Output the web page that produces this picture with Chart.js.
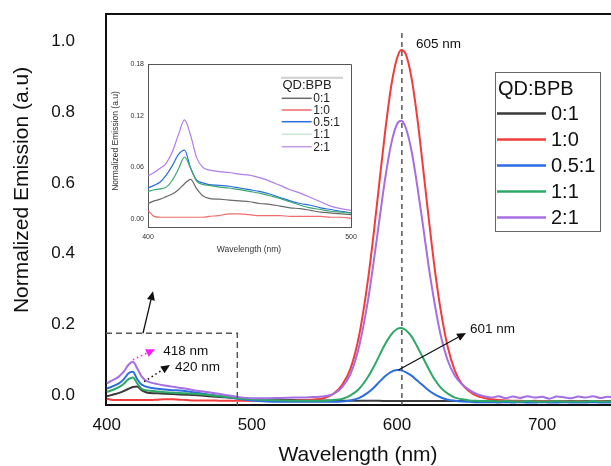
<!DOCTYPE html>
<html><head><meta charset="utf-8">
<script src="https://cdn.jsdelivr.net/npm/chart.js@4/dist/chart.umd.min.js"></script>
<style>
html,body{margin:0;padding:0;background:#fff;}
#wrap{position:relative;width:611px;height:466px;overflow:hidden;}
#main{position:absolute;left:0;top:0;}
#inset{position:absolute;left:100px;top:50px;}
</style></head><body>
<div id="wrap">
<canvas id="main" width="611" height="466"></canvas>
<canvas id="inset" width="265" height="212"></canvas>
</div>
<script>
// ---------- DATA ----------
const seriesNames = ['0:1', '1:0', '0.5:1', '1:1', '2:1'];
const xTicks = [400, 500, 600, 700];
const yTicks = [0, 0.2, 0.4, 0.6, 0.8, 1.0];

const wavelengths = [400,403,406,409,412,415,418,421,424,427,430,435,440,445,450,455,460,470,480,490,500,510,520,530,540,550,556,562,568,574,580,584,588,592,596,600,603,606,610,614,618,622,626,630,635,640,645,650,655,660,665,670,675,680,685,690,695,700,705,710,715,720,725,730,735,740,745,750];

const qd0_1 = [-0.003,0.000,0.003,0.007,0.012,0.018,0.023,0.024,0.014,0.008,0.006,
  0.005,0.004,0.003,0.002,0.001,0.000,
  -0.003,-0.006,-0.009,-0.012,-0.013,-0.014,-0.014,-0.015,-0.015,
  -0.016,-0.016,-0.016,-0.016,-0.016,
  -0.016,-0.016,-0.017,-0.017,-0.017,
  -0.017,-0.017,
  -0.017,-0.017,-0.017,-0.017,-0.017,-0.017,
  -0.017,-0.017,-0.017,-0.017,-0.017,-0.017,-0.017,-0.017,-0.017,-0.017,-0.017,-0.017,-0.017,-0.017,-0.017,-0.017,-0.017,-0.017,-0.017,-0.017,-0.017,-0.017,-0.017,-0.017];

const qd1_0 = [-0.010,-0.013,-0.014,-0.014,-0.014,-0.014,-0.014,-0.014,-0.014,-0.014,-0.014,
  -0.013,-0.012,-0.012,-0.013,-0.014,-0.015,
  -0.015,-0.016,-0.016,-0.016,-0.016,-0.016,-0.015,-0.013,-0.008,
  0.003,0.028,0.075,0.170,0.325,
  0.458,0.606,0.750,0.873,0.952,
  0.976,0.965,
  0.898,0.784,0.643,0.496,0.358,0.244,
  0.136,0.068,0.030,0.010,-0.002,-0.008,-0.012,-0.014,-0.015,-0.016,-0.016,-0.017,-0.016,-0.017,-0.017,-0.018,-0.017,-0.018,-0.017,-0.018,-0.018,-0.017,-0.018,-0.018];

const qd05_1 = [0.019,0.023,0.028,0.035,0.046,0.062,0.066,0.045,0.030,0.024,0.021,
  0.018,0.016,0.014,0.013,0.011,0.008,
  0.002,-0.004,-0.010,-0.015,-0.018,-0.019,-0.019,-0.019,-0.019,
  -0.019,-0.018,-0.015,-0.008,0.007,
  0.021,0.038,0.054,0.066,0.071,
  0.070,0.065,
  0.055,0.041,0.027,0.013,0.002,-0.006,
  -0.013,-0.016,-0.018,-0.019,-0.020,-0.020,-0.020,-0.021,-0.020,-0.021,-0.020,-0.021,-0.021,-0.020,-0.021,-0.021,-0.020,-0.021,-0.021,-0.021,-0.020,-0.021,-0.021,-0.021];

const qd1_1 = [0.009,0.013,0.018,0.024,0.033,0.045,0.050,0.033,0.018,0.014,0.012,
  0.010,0.008,0.007,0.006,0.005,0.004,
  0.000,-0.004,-0.009,-0.012,-0.014,-0.015,-0.016,-0.016,-0.016,
  -0.014,-0.011,-0.001,0.018,0.051,
  0.080,0.113,0.145,0.171,0.187,
  0.190,0.184,
  0.166,0.137,0.105,0.073,0.044,0.022,
  0.004,-0.007,-0.012,-0.015,-0.016,-0.017,-0.017,-0.018,-0.017,-0.018,-0.018,-0.017,-0.018,-0.018,-0.018,-0.017,-0.018,-0.018,-0.018,-0.018,-0.017,-0.018,-0.018,-0.018];

const qd2_1 = [0.033,0.040,0.046,0.055,0.068,0.086,0.094,0.076,0.053,0.041,0.036,
  0.031,0.027,0.024,0.021,0.018,0.014,
  0.008,0.002,-0.005,-0.009,-0.009,-0.008,-0.007,-0.006,-0.003,
  0.003,0.021,0.060,0.139,0.267,
  0.378,0.499,0.616,0.710,0.766,
  0.776,0.757,
  0.692,0.592,0.478,0.360,0.258,0.172,
  0.098,0.054,0.030,0.014,0.003,-0.003,-0.007,-0.003,-0.009,-0.004,-0.008,-0.003,-0.007,-0.005,-0.010,-0.004,-0.006,-0.009,-0.004,-0.007,-0.003,-0.008,-0.005,-0.006];

// inset data
const insetXTicks = [400, 500];
const insetYTicks = [0, 0.06, 0.12, 0.18];
const insetWavelengths = [400,403,406,409,412,415,418,421,424,427,430,435,440,445,450,455,460,465,470,475,480,485,490,495,500];
const inset0_1 = [0.018,0.021,0.023,0.026,0.029,0.034,0.041,0.046,0.035,0.027,0.024,0.023,0.022,0.021,0.020,0.018,0.017,0.015,0.013,0.012,0.010,0.008,0.007,0.006,0.005];
const inset1_0 = [0.010,0.003,0.002,0.002,0.002,0.002,0.002,0.002,0.002,0.002,0.003,0.004,0.006,0.006,0.005,0.004,0.004,0.004,0.003,0.003,0.003,0.003,0.002,0.002,0.001];
const inset05_1 = [0.036,0.039,0.043,0.051,0.062,0.075,0.080,0.059,0.045,0.042,0.040,0.039,0.038,0.036,0.034,0.032,0.029,0.025,0.021,0.018,0.016,0.013,0.011,0.009,0.007];
const inset1_1 = [0.032,0.034,0.035,0.037,0.045,0.058,0.072,0.059,0.044,0.040,0.039,0.037,0.036,0.034,0.032,0.030,0.027,0.024,0.020,0.016,0.013,0.011,0.009,0.008,0.007];
const inset2_1 = [0.050,0.054,0.059,0.065,0.078,0.098,0.115,0.097,0.071,0.060,0.057,0.055,0.054,0.052,0.051,0.048,0.044,0.039,0.034,0.030,0.025,0.020,0.015,0.012,0.010];

// annotation anchors (data units)
const peakLine = {x: 603.4, top: 1.024};
const peakLabel = {text: '605 nm', x: 613.1, y: 0.993};
const zoomBox = {right: 490, top: 0.175};
const boxArrow = {x1: 425, y1: 0.175, x2: 431.9, y2: 0.294};
const arrow418 = {x1: 418, y1: 0.100, x2: 433.3, y2: 0.130, text: '418 nm', tx: 439, ty: 0.123};
const arrow420 = {x1: 425.7, y1: 0.038, x2: 443.6, y2: 0.085, text: '420 nm', tx: 447.1, ty: 0.080};
const arrow601 = {x1: 601, y1: 0.071, x2: 647.6, y2: 0.176, text: '601 nm', tx: 650.3, ty: 0.187};

// ---------- STYLE ----------
const FONT = "'Liberation Sans', Arial, sans-serif";
const mainColors = ['#3a3a3a', '#f23b3b', '#2a6de0', '#2ea866', '#a66ee3'];
const insetColors = ['#6a6a6a', '#f26a6a', '#2a6de0', '#3aa872', '#b07de8'];
const insetLegendColors = ['#6a6a6a', '#f26a6a', '#2a6de0', '#c6e6d6', '#c39be8'];
const drawOrder = [4, 3, 2, 1, 0];

function toXY(xs, ys){ return xs.map((x,i)=>({x:x, y:ys[i]})); }

function arrow(ctx,x1,y1,x2,y2,color,dash,head,w){
  const ang=Math.atan2(y2-y1,x2-x1);
  const bx=x2-head*Math.cos(ang), by=y2-head*Math.sin(ang);
  ctx.strokeStyle=color; ctx.fillStyle=color; ctx.lineWidth=w; ctx.setLineDash(dash);
  ctx.beginPath(); ctx.moveTo(x1,y1); ctx.lineTo(bx,by); ctx.stroke(); ctx.setLineDash([]);
  const hw=head*0.45;
  ctx.beginPath(); ctx.moveTo(x2,y2);
  ctx.lineTo(bx+hw*Math.sin(ang), by-hw*Math.cos(ang));
  ctx.lineTo(bx-hw*Math.sin(ang), by+hw*Math.cos(ang));
  ctx.closePath(); ctx.fill();
}

const mainSeries = [qd0_1, qd1_0, qd05_1, qd1_1, qd2_1];

const mainDecor = {
  id: 'mainDecor',
  afterDatasetsDraw(chart){
    const {ctx, chartArea:a, scales:{x, y}} = chart;
    const X = v=>x.getPixelForValue(v), Y = v=>y.getPixelForValue(v);
    ctx.save();
    // top frame line
    ctx.strokeStyle='#111'; ctx.lineWidth=2;
    ctx.beginPath(); ctx.moveTo(a.left-1, a.top); ctx.lineTo(a.right, a.top); ctx.stroke();
    // dashed peak line
    ctx.strokeStyle='#555'; ctx.lineWidth=1.5; ctx.setLineDash([5,4]);
    ctx.beginPath(); ctx.moveTo(X(peakLine.x), Y(peakLine.top)); ctx.lineTo(X(peakLine.x), a.bottom); ctx.stroke();
    // zoom box
    ctx.setLineDash([6,4]);
    ctx.beginPath(); ctx.moveTo(a.left, Y(zoomBox.top)); ctx.lineTo(X(zoomBox.right), Y(zoomBox.top)); ctx.lineTo(X(zoomBox.right), a.bottom); ctx.stroke();
    ctx.setLineDash([]);
    // arrows
    arrow(ctx, X(boxArrow.x1), Y(boxArrow.y1), X(boxArrow.x2), Y(boxArrow.y2), '#111', [], 9, 1.3);
    arrow(ctx, X(arrow418.x1), Y(arrow418.y1), X(arrow418.x2), Y(arrow418.y2), '#ff1aff', [1.5,3], 9, 1.6);
    arrow(ctx, X(arrow420.x1), Y(arrow420.y1), X(arrow420.x2), Y(arrow420.y2), '#111', [1.5,3], 9, 1.6);
    arrow(ctx, X(arrow601.x1), Y(arrow601.y1), X(arrow601.x2), Y(arrow601.y2), '#111', [], 9, 1.3);
    // annotation texts
    ctx.fillStyle='#111'; ctx.textAlign='left'; ctx.textBaseline='middle';
    ctx.font = '13.5px ' + FONT;
    ctx.fillText(peakLabel.text, X(peakLabel.x), Y(peakLabel.y));
    ctx.fillText(arrow418.text, X(arrow418.tx), Y(arrow418.ty));
    ctx.fillText(arrow420.text, X(arrow420.tx), Y(arrow420.ty));
    ctx.fillText(arrow601.text, X(arrow601.tx), Y(arrow601.ty));
    // legend
    ctx.strokeStyle='#666'; ctx.lineWidth=1;
    ctx.strokeRect(495.5, 72.5, 105, 159);
    ctx.font = '20px ' + FONT; ctx.fillStyle='#111';
    ctx.fillText('QD:BPB', 498, 89);
    seriesNames.forEach((n,i)=>{
      const yy = 113.5 + i*26;
      ctx.strokeStyle = mainColors[i]; ctx.lineWidth = 2.5;
      ctx.beginPath(); ctx.moveTo(497, yy); ctx.lineTo(546, yy); ctx.stroke();
      ctx.fillStyle='#111';
      ctx.fillText(n, 551, yy+1);
    });
    // axis titles
    ctx.font = '21px ' + FONT; ctx.textAlign='center';
    ctx.fillText('Wavelength (nm)', 358, 455);
    ctx.save(); ctx.translate(22, 190); ctx.rotate(-Math.PI/2);
    ctx.fillText('Normalized Emission (a.u)', 0, 0);
    ctx.restore();
    ctx.restore();
  }
};

new Chart(document.getElementById('main'), {
  type: 'line',
  data: {
    datasets: mainSeries.map((s,i)=>({
      label: seriesNames[i], data: toXY(wavelengths, s),
      borderColor: mainColors[i], borderWidth: 2, pointRadius: 0,
      cubicInterpolationMode: 'monotone', order: drawOrder[i], fill: false
    }))
  },
  options: {
    responsive: false, animation: false,
    layout: {padding: {top: 14, right: 0, left: 0, bottom: 0}},
    plugins: {legend: {display: false}, tooltip: {enabled: false}},
    scales: {
      x: {
        type: 'linear', min: 399.5, max: 747.5,
        afterBuildTicks: s => { s.ticks = xTicks.map(v=>({value:v})); },
        afterFit: s => { s.height = 61; s.paddingRight = 0; },
        grid: {display: false, drawTicks: false},
        border: {display: true, color: '#111', width: 2},
        ticks: {font: {family: FONT, size: 17}, color: '#111', padding: 10, maxRotation: 0, autoSkip: false}
      },
      y: {
        type: 'linear', min: -0.028, max: 1.078,
        afterBuildTicks: s => { s.ticks = yTicks.map(v=>({value:v})); },
        afterFit: s => { s.width = 106; s.paddingTop = 0; s.paddingBottom = 0; },
        grid: {display: false, drawTicks: false},
        border: {display: true, color: '#111', width: 2},
        ticks: {font: {family: FONT, size: 17}, color: '#111', padding: 31, callback: v => Number(v).toFixed(1)}
      }
    }
  },
  plugins: [mainDecor]
});

// ---------- INSET ----------
const insetSeries = [inset0_1, inset1_0, inset05_1, inset1_1, inset2_1];
const OX = 100, OY = 50;
const insetDecor = {
  id: 'insetDecor',
  afterDatasetsDraw(chart){
    const {ctx, chartArea:a} = chart;
    ctx.save();
    ctx.strokeStyle='#555'; ctx.lineWidth=1;
    ctx.beginPath(); ctx.moveTo(a.left, a.top+0.5); ctx.lineTo(a.right+0.5, a.top+0.5); ctx.lineTo(a.right+0.5, a.bottom); ctx.stroke();
    // legend
    ctx.strokeStyle='#cfcfcf'; ctx.lineWidth=2;
    ctx.beginPath(); ctx.moveTo(281-OX, 77.7-OY); ctx.lineTo(343-OX, 77.7-OY); ctx.stroke();
    ctx.fillStyle='#222'; ctx.textAlign='left'; ctx.textBaseline='middle';
    ctx.font = '13px ' + FONT;
    ctx.fillText('QD:BPB', 282.5-OX, 85.5-OY);
    const ys = [98.3, 110, 121.7, 134.3, 146.7];
    ctx.font = '12px ' + FONT;
    seriesNames.forEach((n,i)=>{
      const yy = ys[i]-OY;
      ctx.strokeStyle = insetLegendColors[i]; ctx.lineWidth = 1.5;
      ctx.beginPath(); ctx.moveTo(281.7-OX, yy); ctx.lineTo(311.7-OX, yy); ctx.stroke();
      ctx.fillStyle='#222';
      ctx.fillText(n, 313.3-OX, yy+0.5);
    });
    // titles
    ctx.textAlign='center'; ctx.fillStyle='#333';
    ctx.font = '8.5px ' + FONT;
    ctx.fillText('Wavelength (nm)', 249-OX, 250-OY);
    ctx.save(); ctx.translate(116-OX, 141-OY); ctx.rotate(-Math.PI/2);
    ctx.fillText('Normalized Emission (a.u)', 0, 0);
    ctx.restore();
    ctx.restore();
  }
};

new Chart(document.getElementById('inset'), {
  type: 'line',
  data: {
    datasets: insetSeries.map((s,i)=>({
      label: seriesNames[i], data: toXY(insetWavelengths, s),
      borderColor: insetColors[i], borderWidth: 1.2, pointRadius: 0,
      cubicInterpolationMode: 'monotone', order: drawOrder[i], fill: false
    }))
  },
  options: {
    responsive: false, animation: false,
    layout: {padding: {top: 14, right: 14, left: 0, bottom: 0}},
    plugins: {legend: {display: false}, tooltip: {enabled: false}},
    scales: {
      x: {
        type: 'linear', min: 400, max: 500,
        afterBuildTicks: s => { s.ticks = insetXTicks.map(v=>({value:v})); },
        afterFit: s => { s.height = 35; },
        grid: {display: false, drawTicks: false},
        border: {display: true, color: '#555', width: 1},
        ticks: {font: {family: FONT, size: 7}, color: '#333', padding: 6, maxRotation: 0, autoSkip: false}
      },
      y: {
        type: 'linear', min: -0.0093, max: 0.18,
        afterBuildTicks: s => { s.ticks = insetYTicks.map(v=>({value:v})); },
        afterFit: s => { s.width = 48; s.paddingTop = 0; s.paddingBottom = 0; },
        grid: {display: false, drawTicks: false},
        border: {display: true, color: '#555', width: 1},
        ticks: {font: {family: FONT, size: 7}, color: '#333', padding: 4, callback: v => Number(v).toFixed(2)}
      }
    }
  },
  plugins: [insetDecor]
});
</script>
</body></html>
